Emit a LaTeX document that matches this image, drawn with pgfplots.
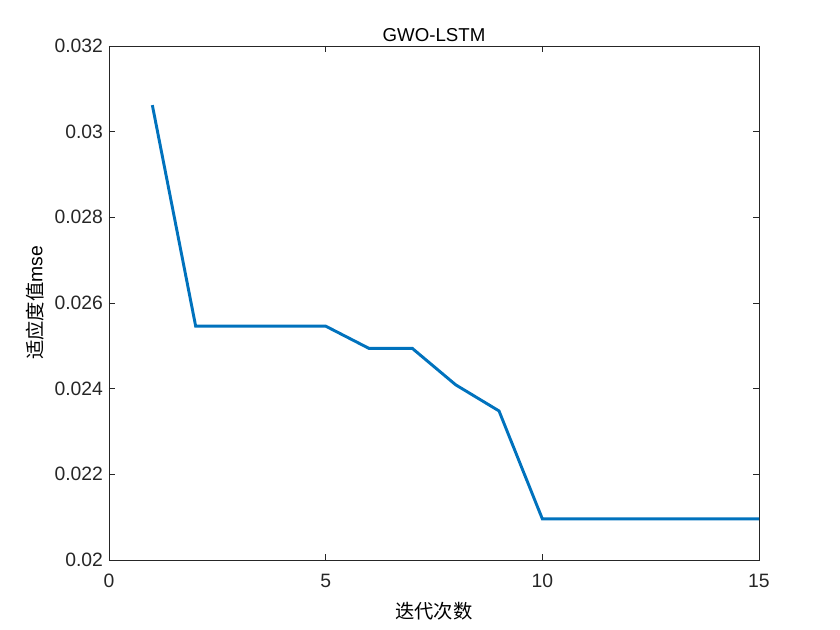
\documentclass[border=0pt]{standalone}
\usepackage{fontspec}
\setmainfont{Liberation Sans}
\newfontfamily\cjk{Noto Sans CJK SC}
\usepackage{pgfplots}
\pgfplotsset{compat=1.18}

\definecolor{mblue}{rgb}{0,0.447,0.741}
\definecolor{mgray}{rgb}{0.15,0.15,0.15}

\begin{document}
\begin{tikzpicture}
\begin{axis}[
    scale only axis,
    width=487.5pt, height=385.5pt,
    xmin=0, xmax=15, ymin=0.02, ymax=0.032,
    xtick={0,5,10,15},
    ytick={0.02,0.022,0.024,0.026,0.028,0.03,0.032},
    yticklabels={0.02,0.022,0.024,0.026,0.028,0.03,0.032},
    scaled y ticks=false,
    axis line style={mgray, line width=0.6pt},
    tick style={mgray, line width=0.6pt},
    major tick length=4.5pt,
    tick align=inside,
    ticklabel style={font=\fontsize{14.5}{16}\selectfont, text=mgray},
    /pgf/number format/assume math mode=true,
    xticklabel style={yshift=-7pt},
    yticklabel style={xshift=-1pt},
    title={GWO-LSTM},
    title style={font=\fontsize{14}{16}\selectfont, yshift=-6pt},
    xlabel={\cjk 迭代次数},
    ylabel={\cjk 适应度值\rmfamily mse},
    xlabel style={font=\fontsize{14.5}{16}\selectfont, yshift=-4pt},
    ylabel style={font=\fontsize{14.5}{16}\selectfont, yshift=1pt},
]
\addplot[mblue, line width=2.2pt] coordinates {
    (1,0.03062) (2,0.02546) (3,0.02546) (4,0.02546) (5,0.02546)
    (6,0.02494) (7,0.02494) (8,0.02409) (9,0.02348) (10,0.02096)
    (11,0.02096) (12,0.02096) (13,0.02096) (14,0.02096) (15,0.02096)
};
\end{axis}
\pgfresetboundingbox
\path ([shift={(-81.75pt,-52.5pt)}]current axis.south west)
    rectangle ([shift={(60.75pt,34.5pt)}]current axis.north east);
\end{tikzpicture}
\end{document}
